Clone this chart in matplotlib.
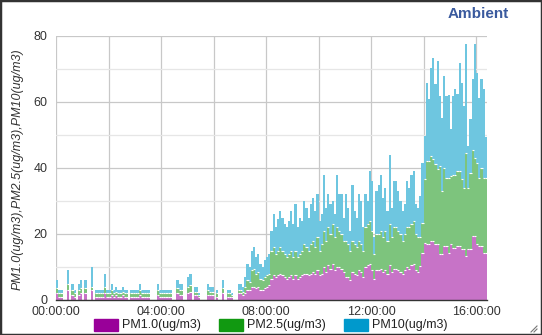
import matplotlib.pyplot as plt
import numpy as np
from matplotlib.patches import Rectangle
from matplotlib.lines import Line2D

plt.rcParams['font.family'] = ['Liberation Sans', 'DejaVu Sans']

# 5-minute readings from 00:00, values in ug/m3
pm10 = [6, 3, 3, 0, 0, 9, 0, 5, 3, 0, 5, 6, 0, 6, 0, 0, 10, 0, 3, 3,
        3, 3, 8, 3, 3, 5, 3, 4, 3, 3, 4, 3, 3, 0, 3, 3, 3, 3, 5, 3,
        3, 3, 3, 0, 0, 0, 5, 3, 3, 3, 3, 3, 3, 0, 0, 6, 5, 5, 0, 0,
        7, 8, 0, 4, 4, 2, 0, 0, 0, 5, 4, 4, 0, 3, 0, 0, 6, 0, 3, 3,
        2, 0, 0, 5, 5, 4, 7, 11, 10, 15, 16, 13, 14, 11, 10, 12, 13, 14,
        21, 26, 22, 24.5, 27, 25, 23, 22, 24, 27, 23, 29, 22, 25, 24, 30, 28,
        25, 29, 31, 27, 32, 24, 26, 38, 28, 32, 29, 30, 26, 38, 32, 32, 25,
        32, 28, 21, 35, 27, 25, 32, 30, 22, 32, 30, 39, 36, 19, 33, 35, 38,
        31, 34, 27, 44, 28, 36, 36, 33, 30, 27, 29, 36, 34, 38, 39, 29, 28,
        31.5, 41.6, 49.7, 65.8, 61, 70.4, 73.4, 65.4, 72.4, 61.8, 55.2, 67.9,
        61.8, 62, 51.8, 61.8, 63.9, 62.4, 71.9, 65.8, 58.8, 77.5, 46.7, 54.8,
        67, 77.5, 68.9, 61.3, 67, 63.9, 49.5]
pm25 = [3.5, 2, 2, 0, 0, 5, 0, 3, 2, 0, 3, 3.5, 0, 3.5, 0, 0, 4, 0, 2, 2,
        2, 2, 4, 2, 2, 3, 2, 2.5, 2, 2, 2.5, 2, 2, 0, 2, 2, 2, 2, 3, 2,
        2, 2, 2, 0, 0, 0, 3, 2, 2, 2, 2, 2, 2, 0, 0, 3.5, 3, 3, 0, 0,
        4, 4.5, 0, 2.5, 2.5, 1.5, 0, 0, 0, 3, 2.5, 2.5, 0, 2, 0, 0, 3.5, 0, 2, 2,
        1.5, 0, 0, 3, 3, 2.5, 4, 6, 5.5, 9, 9.5, 8, 8.5, 6.5, 6, 7, 7.5, 8,
        15, 16, 14, 15, 16, 15, 14, 13, 14, 15, 13, 15, 13, 14, 15, 17, 16,
        15, 17, 18, 16, 19, 15, 17, 21, 18, 22, 20, 23, 19, 22, 21, 20, 18,
        18, 17, 15, 18, 17, 16, 18, 17, 15, 22, 23, 24, 21, 14, 20, 20, 21,
        19, 21, 18, 23, 19, 22, 22, 21, 20, 18, 20, 22, 22, 23, 24, 20, 19,
        19, 23.4, 36.7, 42, 42, 43.6, 42.7, 41.2, 39.7, 40.6, 33, 40,
        37, 37, 37.6, 38, 38, 39, 39, 36.7, 34, 44.6, 34, 38.6,
        45.6, 43, 41.6, 37, 40, 37, 37]
pm1 = [2, 1, 1, 0, 0, 3, 0, 1.5, 1, 0, 1.5, 2, 0, 2, 0, 0, 3, 0, 1, 1,
       1, 1, 2, 1, 1, 1.5, 1, 1.5, 1, 1, 1.5, 1, 1, 0, 1, 1, 1, 1, 1.5, 1,
       1, 1, 1, 0, 0, 0, 1.5, 1, 1, 1, 1, 1, 1, 0, 0, 2, 1.5, 1.5, 0, 0,
       2, 2.5, 0, 1.5, 1.5, 1, 0, 0, 0, 1.5, 1.5, 1.5, 0, 1, 0, 0, 2, 0, 1, 1,
       1, 0, 0, 2, 2, 1.5, 2, 3, 3, 4, 4, 3.5, 4, 3, 3, 3.5, 4, 4.5,
       6.5, 7.5, 7, 7.5, 8, 7.5, 7, 6.5, 7, 7.5, 6.5, 7.5, 6.5, 7, 7.5, 8, 8,
       7.5, 8, 8.5, 8, 9, 7.5, 8, 10, 8.5, 10.5, 9.5, 11, 9, 10, 10, 9.5, 8.5,
       7, 7, 6, 8.5, 8, 7.5, 9, 8.5, 7, 10, 10.5, 11, 9, 6.5, 9, 9, 9.5,
       8.5, 9, 8, 10.5, 8.5, 9.5, 9.5, 9, 8.5, 8, 9, 10, 9.5, 10.5, 11, 9, 8.5,
       10.3, 14.3, 17.4, 17, 17, 17.9, 17.9, 17, 17, 14, 14, 16.4,
       16.4, 14.3, 17, 15.8, 15.8, 16.4, 16.4, 15.4, 15.4, 13.3, 15.4, 15.4,
       19.4, 19.4, 17, 16.4, 16.4, 14.3, 14.3]

names = ['PM1.0(ug/m3)', 'PM2.5(ug/m3)', 'PM10(ug/m3)']
legend_cols = ['#990099', '#119911', '#0099cc']
bar_cols = ['#c773c7', '#7dc47d', '#6ec6e0']
xtick_labels = ['00:00:00', '04:00:00', '08:00:00', '12:00:00', '16:00:00']

W, H = 542, 335
fig = plt.figure(figsize=(W / 100, H / 100), dpi=100)
ax = fig.add_axes([56 / W, 1 - 300 / H, (487 - 56) / W, (300 - 36) / H])

step = 5 / 60
t = np.arange(len(pm10)) * step
ax.bar(t, pm10, width=step, align='edge', color=bar_cols[2], linewidth=0, zorder=2)
ax.bar(t, pm25, width=step, align='edge', color=bar_cols[1], linewidth=0, zorder=3)
ax.bar(t, pm1, width=step, align='edge', color=bar_cols[0], linewidth=0, zorder=4)
# white border at top of the lower segments
ax.hlines(pm25, t, t + step, color='white', linewidth=0.8, zorder=3.5)
ax.hlines(pm1, t, t + step, color='white', linewidth=0.8, zorder=4.5)

ax.set_xlim(0, len(pm10) * step)
ax.set_ylim(0, 80)

ax.set_xticks(np.arange(0, 17, 2))
ax.set_xticklabels([xtick_labels[i // 2] if i % 2 == 0 else '' for i in range(9)])
ax.set_yticks([0, 20, 40, 60, 80])
ax.set_yticks([10, 30, 50, 70], minor=True)
ax.grid(True, which='major', color='#c8c8c8', linewidth=0.9, zorder=0)
ax.grid(True, which='minor', axis='y', color='#e6e6e6', linewidth=0.9, zorder=0)
ax.set_axisbelow(True)
ax.tick_params(axis='both', which='both', length=0, labelsize=9, colors='#333333')
ax.tick_params(axis='x', pad=4)
ax.tick_params(axis='y', pad=6)
for s in ['top', 'right', 'left']:
    ax.spines[s].set_visible(False)
ax.spines['bottom'].set_color('#333333')
ax.spines['bottom'].set_linewidth(1.0)
ax.spines['bottom'].set_zorder(6)

fig.text(18 / W, 1 - 169 / H, 'PM1.0(ug/m3),PM2.5(ug/m3),PM10(ug/m3)', rotation=90,
         ha='center', va='center', fontsize=9, style='italic', color='#333333')
fig.text(478 / W, 1 - 14 / H, 'Ambient', ha='center', va='center', fontsize=11,
         fontweight='bold', color='#3a5a9e')

# legend
sw_x = [94, 219, 344]
for x0, name, c in zip(sw_x, names, legend_cols):
    fig.patches.append(Rectangle((x0 / W, 1 - 331 / H), 24 / W, 12 / H,
                                 transform=fig.transFigure, color=c))
    fig.text((x0 + 28) / W, 1 - 325 / H, name, ha='left', va='center',
             fontsize=9, color='#222222')

# resize grip
for k in range(3):
    fig.lines.append(Line2D([(531 + 3 * k) / W, 537 / W],
                            [1 - 332 / H, 1 - (326 + 3 * k) / H],
                            transform=fig.transFigure, color='#777777', linewidth=0.8))

fig.patches.append(Rectangle((0, 0), 1, 1, transform=fig.transFigure, fill=False,
                             edgecolor='#333333', linewidth=2.5))

fig.savefig('out.png', dpi=100)
